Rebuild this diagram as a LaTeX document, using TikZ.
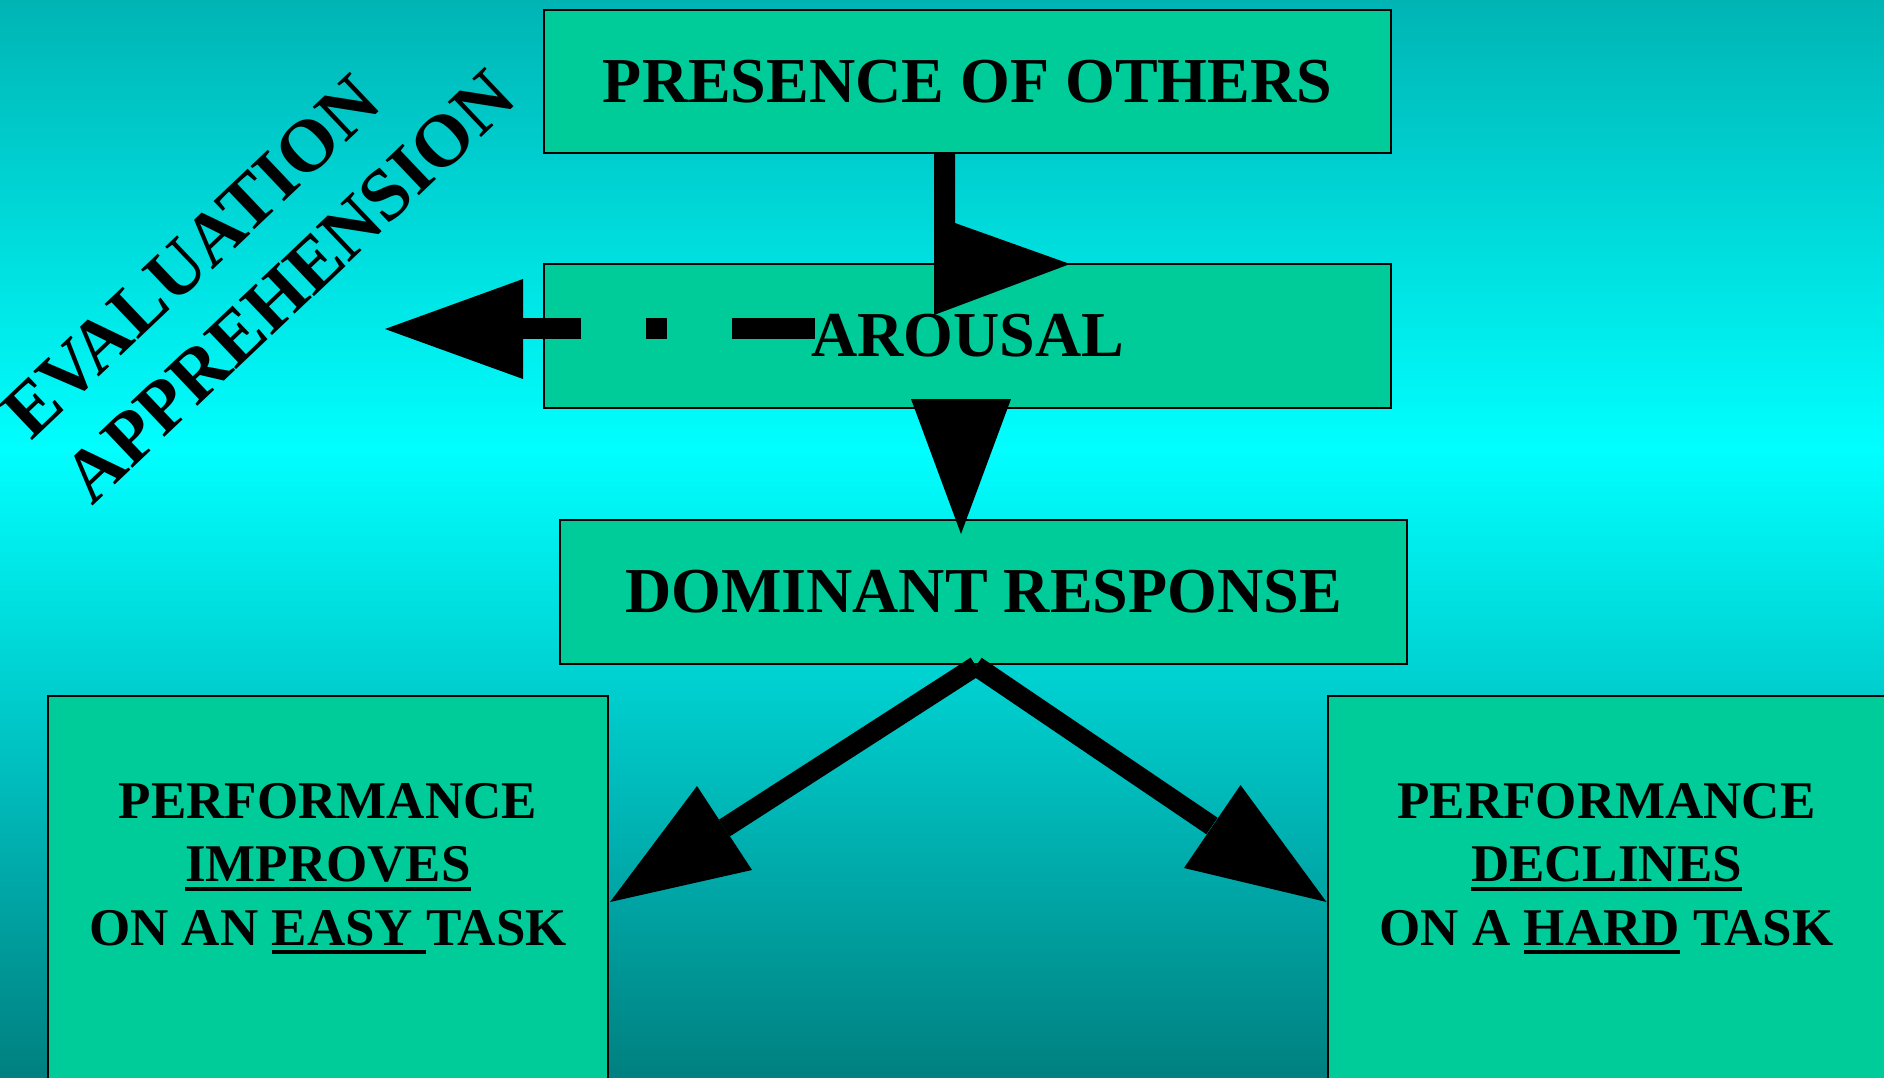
\documentclass[tikz,border=0pt]{standalone}
\usepackage{fontspec}
\setmainfont{Liberation Serif}
\usetikzlibrary{calc}
\definecolor{bgtop}{RGB}{0,180,180}
\definecolor{bgmid}{RGB}{0,255,255}
\definecolor{bgbot}{RGB}{0,128,128}
\definecolor{boxfill}{RGB}{0,204,153}
\newcommand\myul[1]{\setbox0\hbox{#1}\rlap{\rule[-9pt]{\wd0}{4pt}}\box0\relax}
\begin{document}
\begin{tikzpicture}[x=1pt,y=-1pt,
  box/.style={draw=black,line width=2pt,fill=boxfill,inner sep=0pt},
  bigtext/.style={font=\fontsize{64}{70}\selectfont\bfseries},
  smalltext/.style={font=\fontsize{53}{63.5}\selectfont\bfseries,align=center,inner sep=0pt},
  evtext/.style={font=\fontsize{74}{89}\selectfont\bfseries,rotate=43.5,anchor=base west,inner sep=0pt},
  headfill/.style={fill=black},
  shaft/.style={draw=black,line width=21pt},
  dshaft/.style={draw=black,line width=20pt}]
\useasboundingbox (0,0) rectangle (1884,1077);
\clip (0,0) rectangle (1884,1077);
% background
\shade[top color=bgtop,bottom color=bgmid] (0,0) rectangle (1884,450);
\shade[top color=bgmid,bottom color=bgbot] (0,449.5) rectangle (1884,1077);
% boxes
\node[box,bigtext,minimum width=847pt,minimum height=143pt] (pres) at (967.5,81.5) {PRESENCE OF OTHERS};
\node[box,bigtext,minimum width=847pt,minimum height=144pt] (aro) at (967.5,336) {AROUSAL};
\node[box,bigtext,minimum width=847pt,minimum height=144pt] (dom) at (983.5,592) {DOMINANT RESPONSE};
\node[box,minimum width=560pt,minimum height=400pt] (lbox) at (328,896) {};
\node[box,minimum width=558pt,minimum height=400pt] (rbox) at (1607,896) {};
\node[smalltext,anchor=north] (ltext) at (328,783) {PERFORMANCE\\\myul{IMPROVES}\\ON AN \myul{EASY\ }TASK};
\node[smalltext,anchor=north] (rtext) at (1606.5,783) {PERFORMANCE\\\myul{DECLINES}\\ON A \myul{HARD} TASK};
% rotated label
\node[evtext] (evap) at (31,442) {\begin{tabular}[t]{@{}l@{}}EVALUATION\\APPREHENSION\end{tabular}};
% presence -> arousal
\fill[headfill] ($(pres.south)+(-33.5,0)$) -- ++(21,0) -- ++(0,69) -- ($(aro.north)+(102.5,1)$) -- ($(pres.south)+(-33.5,161)$) -- cycle;
% arousal -> dominant
\fill[headfill] ($(aro.south)+(-56.5,-10)$) -- ($(aro.south)+(43.5,-10)$) -- ($(dom.north)+(-22.5,15)$) -- cycle;
% arousal -> evaluation apprehension (dashed)
\coordinate (ev) at (385,329);
\coordinate (evback) at (523,328);
\draw[shaft,dash pattern=on 83pt off 65pt on 21pt off 65pt on 120pt] ($(aro.center)+(-152.5,-8)$) -- (evback);
\fill[headfill] ($(evback)+(0,-49)$) -- ($(evback)+(0,51)$) -- (ev) -- cycle;
% dominant -> performance boxes
\coordinate (apex) at ($(dom.south)+(-7.5,1)$);
\coordinate (ltip) at ($(lbox.north east)+(1,207)$);
\coordinate (rtip) at ($(rbox.north west)+(-0.5,207)$);
\draw[dshaft] (apex) -- ($(ltip)+(114.5,-74)$);
\fill[headfill] (ltip) -- ($(ltip)+(87,-116)$) -- ($(ltip)+(142,-32)$) -- cycle;
\draw[dshaft] (apex) -- ($(rtip)+(-114.5,-76)$);
\fill[headfill] (rtip) -- ($(rtip)+(-86,-117)$) -- ($(rtip)+(-142.5,-34)$) -- cycle;
\end{tikzpicture}
\end{document}
